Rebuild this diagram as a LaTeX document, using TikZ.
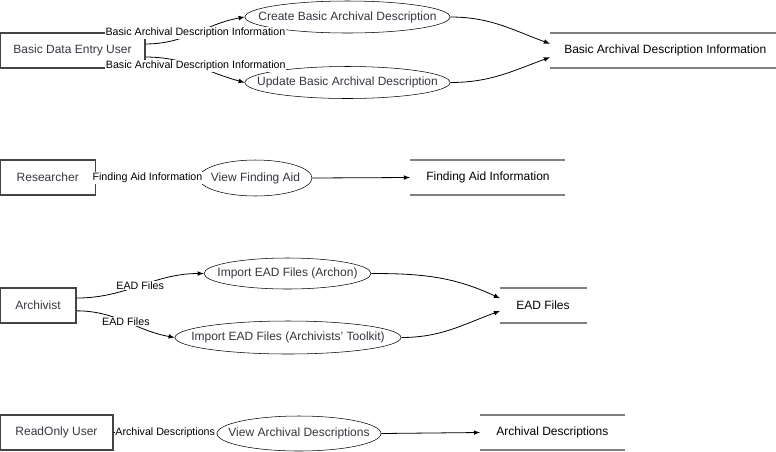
\documentclass[tikz,border=0pt]{standalone}
\usepackage{fontspec}
\setmainfont{Liberation Sans}
\usetikzlibrary{arrows,shapes}
\definecolor{boxgray}{HTML}{444444}
\definecolor{storegray}{HTML}{808080}
\definecolor{procgray}{HTML}{363640}

\begin{document}
\begin{tikzpicture}[x=0.75pt,y=-0.75pt,>=latex,
		font=\fontsize{9}{11}\selectfont,
		entity/.style={rectangle,draw=boxgray,line width=1pt,text=procgray,minimum height=26.25pt,inner sep=0pt},
		proc/.style={ellipse,draw,fill=white,text=procgray,inner sep=0pt},
		store/.style={anchor=west,inner xsep=10.5pt,inner ysep=0pt,minimum height=26.25pt},
		storeline/.style={draw=storegray,line width=1.2pt},
		flow/.style={->,line width=0.6pt},
		lbl/.style={fill=white,inner sep=0.6pt,font=\fontsize{8}{9}\selectfont}]
		\useasboundingbox (0,0) rectangle (776,451);

		% basic data entry user
		\node[entity,minimum width=108.75pt] (user) at (72.5,50.5) {Basic Data Entry User};
		\node[proc,minimum width=153.75pt,minimum height=24pt] (create) at (347.5,17) {\makebox[0pt]{Create Basic Archival Description}};
		\node[proc,minimum width=153.75pt,minimum height=24pt] (update) at (347.5,82.5) {\makebox[0pt]{Update Basic Archival Description}};
		\node[store] (basicinfo) at (550,50.5) {Basic Archival Description Information};
		\draw[storeline] (basicinfo.north west) -- ++(226,0);
		\draw[storeline] (basicinfo.south west) -- ++(226,0);

		% researcher
		\node[entity,minimum width=71.6pt] (researcher) at (47.75,177.5) {Researcher};
		\node[proc,minimum width=84.75pt,minimum height=27pt] (viewaid) at (255.5,178) {\makebox[0pt]{View Finding Aid}};
		\node[store,inner xsep=12pt] (aidinfo) at (410,177.5) {Finding Aid Information};
		\draw[storeline] (aidinfo.north west) -- ++(155,0);
		\draw[storeline] (aidinfo.south west) -- ++(155,0);

		% archivist
		\node[entity,minimum width=57pt] (archivist) at (38,305.5) {Archivist};
		\node[proc,minimum width=125.25pt,minimum height=23.25pt] (archon) at (287.5,273.5) {\makebox[0pt]{Import EAD Files (Archon)}};
		\node[proc,minimum width=169.5pt,minimum height=24.75pt] (toolkit) at (288,337.5) {\makebox[0pt]{Import EAD Files (Archivists' Toolkit)}};
		\node[store,inner xsep=12pt] (eadfiles) at (500,305.5) {EAD Files};
		\draw[storeline] (eadfiles.north west) -- ++(87,0);
		\draw[storeline] (eadfiles.south west) -- ++(87,0);

		% readonly user
		\node[entity,minimum width=84.75pt] (readonly) at (56.5,432.5) {ReadOnly User};
		\node[proc,minimum width=123pt,minimum height=26.25pt] (viewdesc) at (299,433.5) {\makebox[0pt]{View Archival Descriptions}};
		\node[store,inner xsep=12pt] (descs) at (480,432.5) {Archival Descriptions};
		\draw[storeline] (descs.north west) -- ++(145,0);
		\draw[storeline] (descs.south west) -- ++(145,0);

		% flows
		\path ([yshift=4.9pt]user.east) edge[flow,out=0,in=190] node[lbl] {Basic Archival Description Information} (create.west);
		\path ([yshift=-4.9pt]user.east) edge[flow,out=0,in=165] node[lbl] {Basic Archival Description Information} (update.west);
		\path (create.east) edge[flow,out=0,in=160] ([yshift=5.1pt]basicinfo.west);
		\path (update.east) edge[flow,out=0,in=200] ([yshift=-5.1pt]basicinfo.west);

		\path (researcher.east) edge[flow] node[lbl] {Finding Aid Information} (viewaid.west);
		\path (viewaid.east) edge[flow] (aidinfo.west);

		\path ([yshift=5.6pt]archivist.east) edge[flow,out=0,in=180] node[lbl] {EAD Files} (archon.west);
		\path ([yshift=-4pt]archivist.east) edge[flow,out=0,in=170] node[lbl] {EAD Files} (toolkit.west);
		\path (archon.east) edge[flow,out=0,in=155] ([yshift=5.4pt]eadfiles.west);
		\path (toolkit.east) edge[flow,out=0,in=200] ([yshift=-4.1pt]eadfiles.west);

		\path (readonly.east) edge[flow] node[lbl] {Archival Descriptions} (viewdesc.west);
		\path (viewdesc.east) edge[flow] (descs.west);
\end{tikzpicture}
\end{document}
